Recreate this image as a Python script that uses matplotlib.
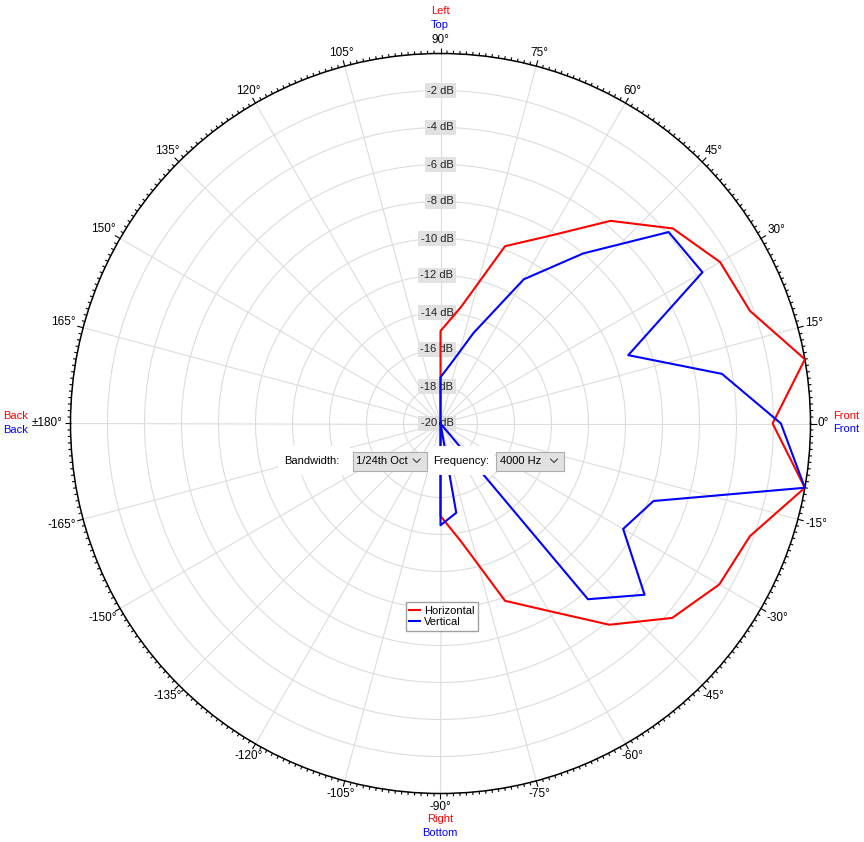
import numpy as np
import matplotlib.pyplot as plt
from matplotlib.patches import Rectangle
from matplotlib.lines import Line2D
from matplotlib.collections import LineCollection

# Polar response at 4000 Hz, 1/24th octave; rear half sits at the -20 dB floor
angles_deg = [-180, -170, -160, -150, -140, -130, -120, -110, -100, -90, -80, -70,
              -60, -50, -40, -30, -20, -10, 0, 10, 20, 30, 40, 50, 60, 70, 80, 90,
              100, 110, 120, 130, 140, 150, 160, 170, 180]
horizontal_db = [-20, -20, -20, -20, -20, -20, -20, -20, -20, -15.0, -13.5, -9.8,
                 -8.3, -5.8, -3.65, -2.6, -2.2, 0.0, -2.05, 0.0, -2.2, -2.55, -3.6, -5.7, -8.3, -9.8, -13.6, -15.0,
                 -20, -20, -20, -20, -20, -20, -20, -20, -20]
vertical_db = [-20, -20, -20, -20, -20, -20, -20, -20, -20, -14.5, -15.1, -20,
               -20, -7.6, -5.6, -8.6, -7.75, 0.0, -1.6, -4.55, -9.2, -3.65, -3.9, -8.0, -11.0, -14.8, -16.7, -17.5,
               -20, -20, -20, -20, -20, -20, -20, -20, -20]
ring_db = [-2, -4, -6, -8, -10, -12, -14, -16, -18, -20]
bandwidth = '1/24th Oct'
frequency = '4000 Hz'

RED = '#ff0000'
BLUE = '#0000ff'
GRID = '#dcdcdc'

plt.rcParams['font.family'] = ['Liberation Sans', 'DejaVu Sans']
plt.rcParams['font.size'] = 8

W, H = 864, 842
fig = plt.figure(figsize=(W / 100, H / 100), dpi=100)


def fx(x):
    return x / W


def fy(y):
    return 1 - y / H


cx, cy, R = 440.5, 423.5, 370
ax = fig.add_axes([fx(cx - R), fy(cy + R), 2 * R / W, 2 * R / H], projection='polar')
ax.set_theta_zero_location('E')
ax.set_theta_direction(1)
ax.set_ylim(-20, 0)

# angle grid (labels are placed by hand below)
tick_deg = list(range(0, 360, 15))
ax.set_thetagrids(tick_deg, [''] * len(tick_deg))
ax.tick_params(axis='x', which='both', length=0)

ax.set_yticks(ring_db[:-1])
ax.set_yticklabels([])
ax.tick_params(axis='y', length=0)
ax.grid(True, which='major', color=GRID, lw=0.8)
ax.spines['polar'].set_color('black')
ax.spines['polar'].set_linewidth(1.1)

# tick marks round the rim, every degree, longer every 15 degrees
px_db = R / 20
segs = []
for a in range(0, 360):
    t = np.radians(a)
    ln = 6 if a % 15 == 0 else 3
    segs.append([(t, -0.3 / px_db), (t, ln / px_db)])
ax.add_collection(LineCollection(segs, colors='black', linewidths=0.8, clip_on=False),
                  autolim=False)
ax.set_ylim(-20, 0)

# angle labels, nearest edge kept a fixed gap outside the rim
angle_texts = []
for a in tick_deg:
    if a == 180:
        s = '\u00b1180\u00b0'
    elif a > 180:
        s = f'{a - 360}\u00b0'
    else:
        s = f'{a}\u00b0'
    angle_texts.append((a, fig.text(0, 0, s, ha='center', va='center', fontsize=8.5)))
fig.canvas.draw()
renderer = fig.canvas.get_renderer()
gap = 7.5
for a, t in angle_texts:
    bb = t.get_window_extent(renderer)
    c, s = np.cos(np.radians(a)), np.sin(np.radians(a))
    half = min(bb.width / 2 / max(abs(c), 1e-6), bb.height / 2 / max(abs(s), 1e-6))
    d = R + gap + half
    t.set_position((fx(cx + d * c), fy(cy - d * s)))

# dB labels along the 90 degree axis
for db in ring_db:
    ax.annotate(f'{db} dB', xy=(np.pi / 2, db), xytext=(13, 0), textcoords='offset pixels',
                ha='right', va='center', fontsize=8, color='#202020', zorder=2,
                bbox=dict(boxstyle='square,pad=0.2', fc='#e1e1e1', ec='none'))

th = np.radians(angles_deg)
l_h, = ax.plot(th, horizontal_db, color=RED, lw=1.5, zorder=3)
l_v, = ax.plot(th, vertical_db, color=BLUE, lw=1.5, zorder=4)

# orientation labels
fig.text(fx(440), fy(11.5), 'Left', color=RED, ha='center', va='center')
fig.text(fx(440), fy(25), 'Top', color=BLUE, ha='center', va='center')
fig.text(fx(3), fy(416), 'Back', color=RED, ha='left', va='center')
fig.text(fx(3), fy(430), 'Back', color=BLUE, ha='left', va='center')
fig.text(fx(833), fy(416), 'Front', color=RED, ha='left', va='center')
fig.text(fx(833), fy(429.5), 'Front', color=BLUE, ha='left', va='center')
fig.text(fx(440), fy(819), 'Right', color=RED, ha='center', va='center')
fig.text(fx(440), fy(832.5), 'Bottom', color=BLUE, ha='center', va='center')

# bandwidth / frequency controls
for x0, x1 in [(279, 350), (428, 494)]:
    fig.patches.append(Rectangle((fx(x0), fy(475)), fx(x1 - x0), (475 - 446) / H,
                                 transform=fig.transFigure, fc='white', ec='none', zorder=5))
fig.text(fx(284), fy(461), 'Bandwidth:', ha='left', va='center', zorder=6)
fig.text(fx(433), fy(461), 'Frequency:', ha='left', va='center', zorder=6)
for (x0, x1), txt in [((352.7, 426.7), bandwidth), ((496, 564), frequency)]:
    fig.patches.append(Rectangle((fx(x0), fy(470.7)), fx(x1 - x0), (470.7 - 452) / H,
                                 transform=fig.transFigure, fc='#e1e1e1', ec='#adadad',
                                 lw=0.8, zorder=6))
    fig.text(fx(x0 + 3.5), fy(461), txt, ha='left', va='center', zorder=7)
    c = x1 - 10
    fig.lines.append(Line2D([fx(c - 3.5), fx(c), fx(c + 3.5)], [fy(459), fy(462.5), fy(459)],
                            transform=fig.transFigure, color='#404040', lw=0.8, zorder=7))

fig.legend([l_h, l_v], ['Horizontal', 'Vertical'], loc='upper left',
           bbox_to_anchor=(fx(405.7), fy(602.3)), frameon=True, fancybox=False,
           edgecolor='#a0a0a0', framealpha=1, fontsize=8, handlelength=1.0,
           handletextpad=0.35, borderpad=0.3, labelspacing=0.15, borderaxespad=0)

fig.savefig('out.png', dpi=100, facecolor='white')
